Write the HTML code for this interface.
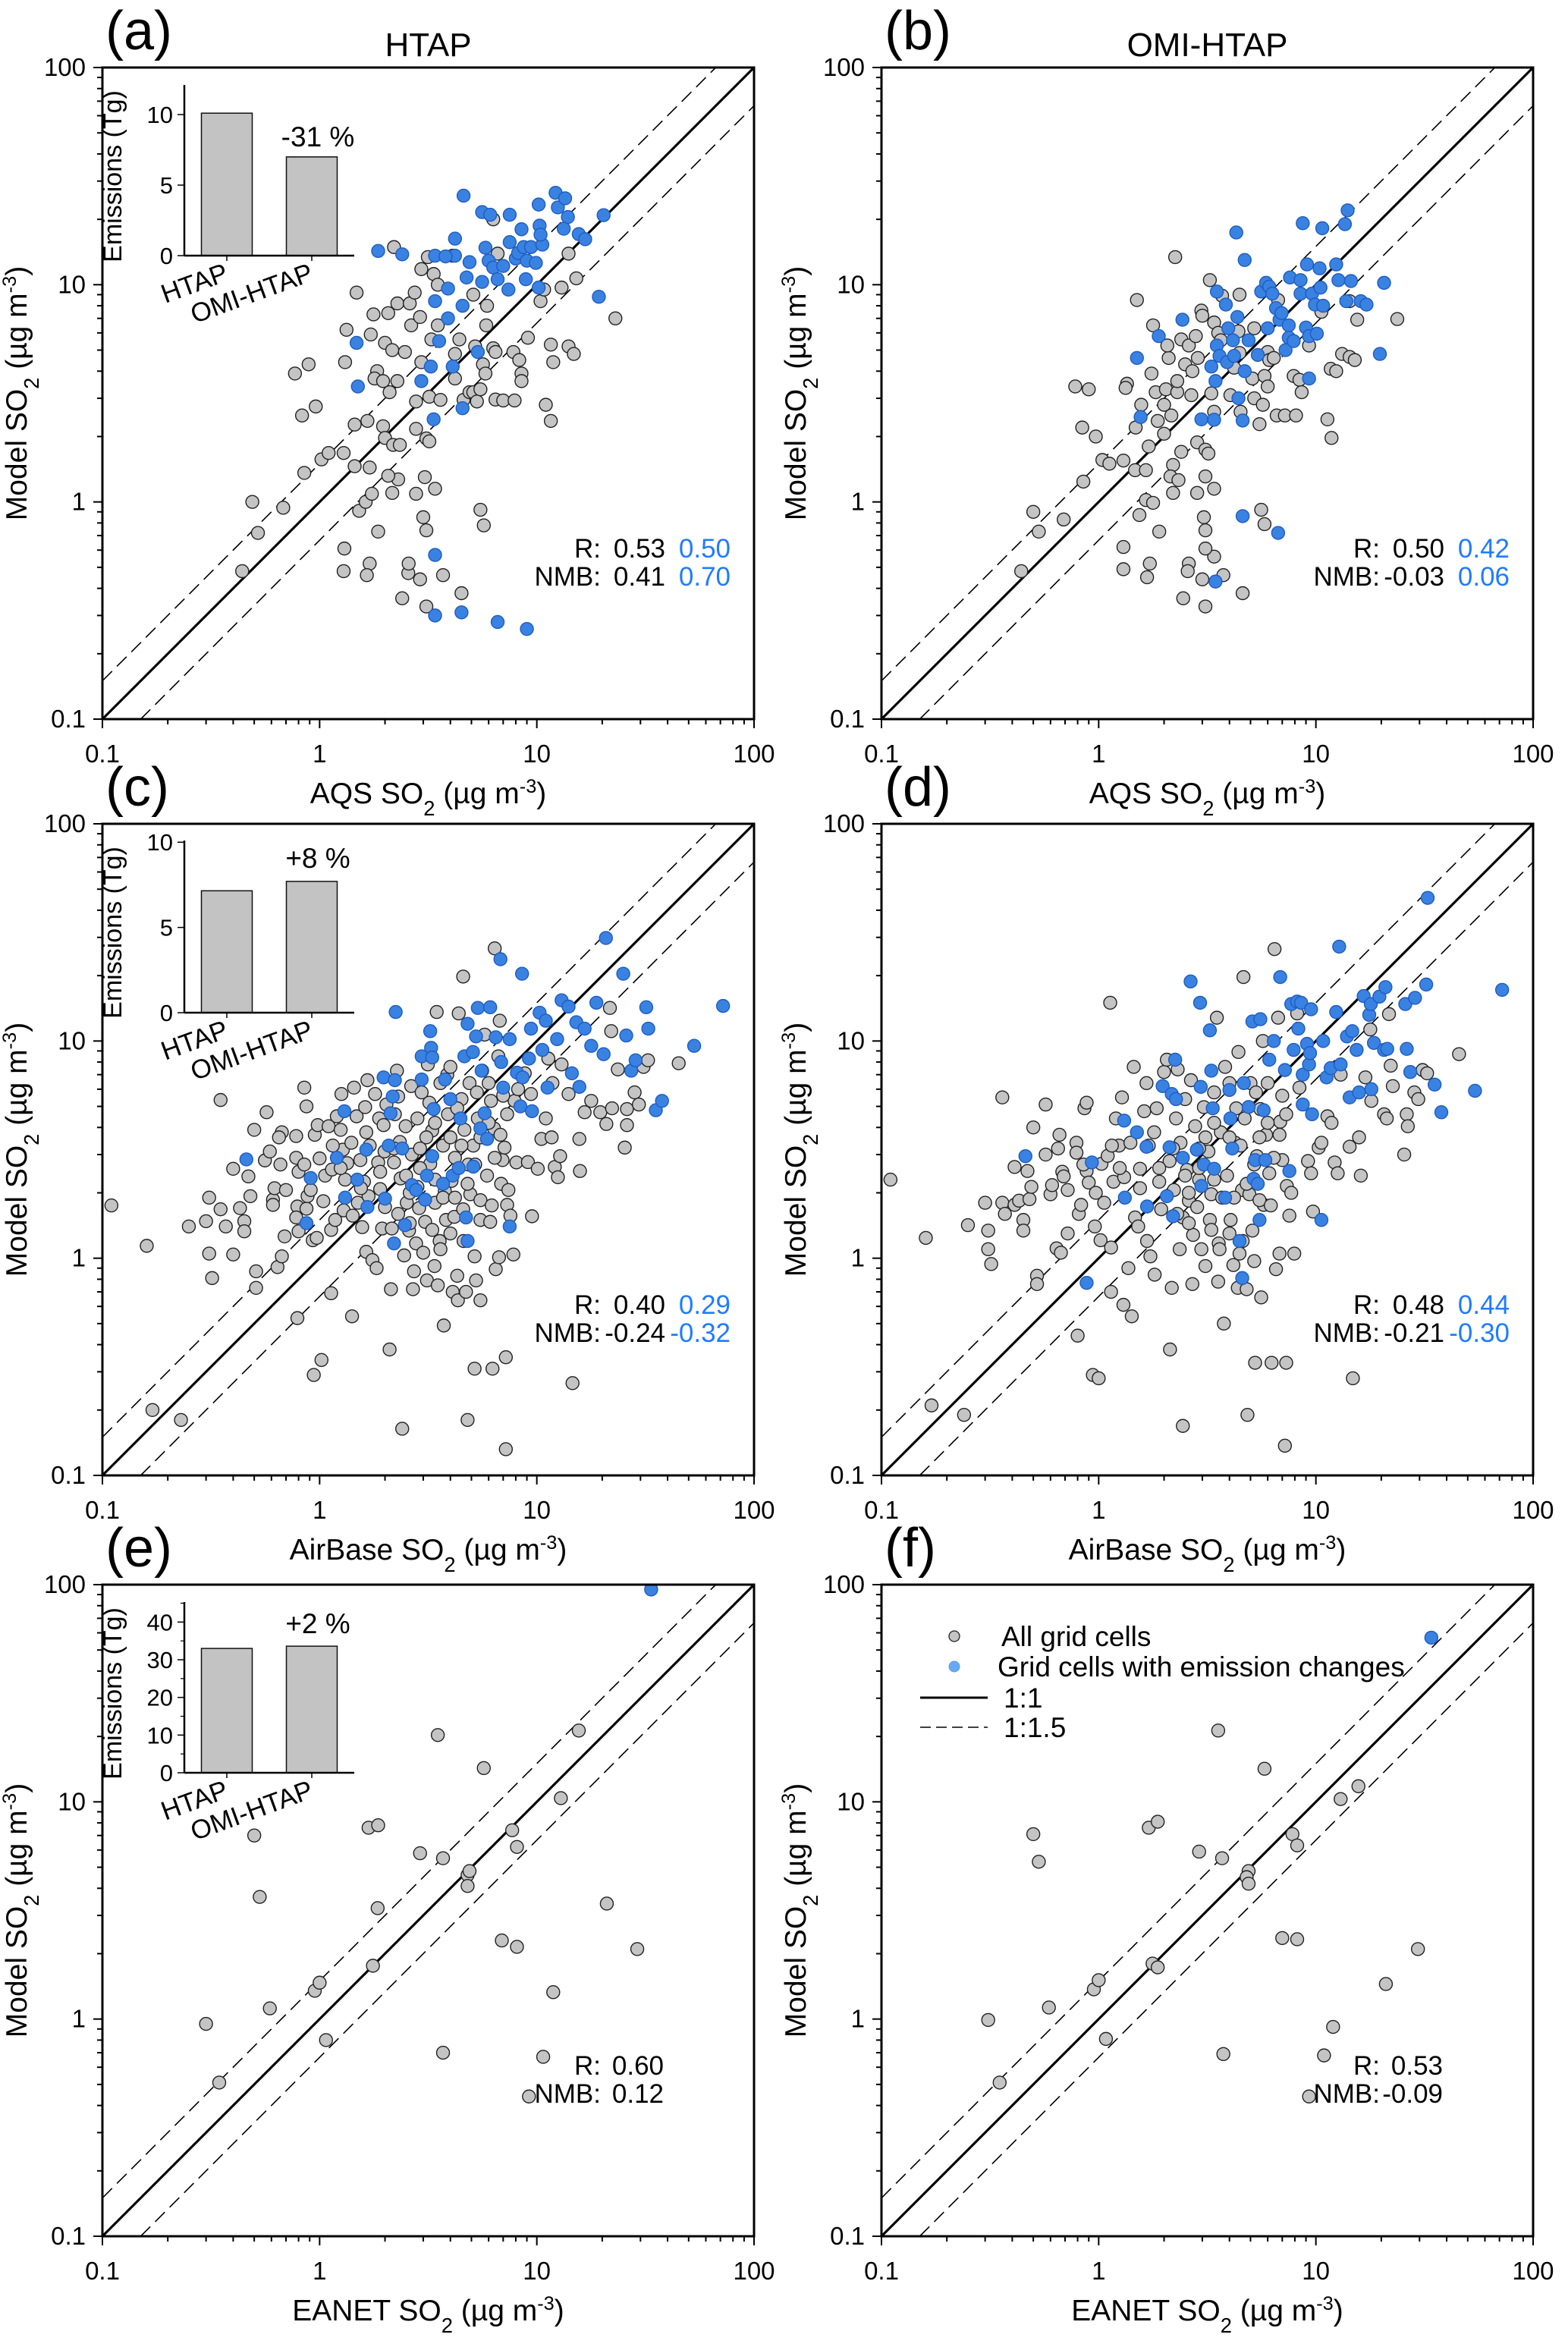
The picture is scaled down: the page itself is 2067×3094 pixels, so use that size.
<!DOCTYPE html>
<html><head><meta charset="utf-8"><style>
html,body{margin:0;padding:0;background:#fff;}
svg{display:block;font-family:"Liberation Sans",Arial,sans-serif;}
</style></head><body>
<svg id="fig" xmlns="http://www.w3.org/2000/svg" width="2067" height="3094" viewBox="0 0 2067 3094" font-family="Liberation Sans, Arial, sans-serif"></svg>
<script>
// ---------------- DATA ----------------
const axisTicks = [0.1, 1, 10, 100];
const axisTickLabels = ["0.1", "1", "10", "100"];
const insetCats = ["HTAP", "OMI-HTAP"];
const insetA = [10.1, 7.0];
const insetC = [7.15, 7.7];
const insetE = [33.0, 33.6];
const insetTicksA = [0, 5, 10];
const insetTicksC = [0, 5, 10];
const insetTicksE = [0, 10, 20, 30, 40];
const statsA = ["0.53", "0.50", "0.41", "0.70"];
const statsB = ["0.50", "0.42", "-0.03", "0.06"];
const statsC = ["0.40", "0.29", "-0.24", "-0.32"];
const statsD = ["0.48", "0.44", "-0.21", "-0.30"];
const statsE = ["0.60", "0.12"];
const statsF = ["0.53", "-0.09"];

const aGray = [[0.44,0.48],[0.49,1.0],[0.52,0.72],[0.68,0.94],[0.77,3.9],[0.83,2.5],[0.89,4.3],[0.96,2.75],[0.85,1.36],[1.02,1.57],[1.1,1.68],[1.29,1.68],[1.33,6.2],[1.31,4.4],[1.48,9.2],[1.45,2.27],[1.45,1.46],[1.52,0.91],[1.63,1.0],[1.74,1.09],[1.7,1.44],[1.66,2.36],[1.72,5.9],[1.77,7.3],[1.86,0.73],[1.84,4.0],[1.79,3.7],[1.96,3.6],[1.96,2.23],[2.0,1.97],[2.0,5.4],[2.1,3.2],[2.07,7.4],[2.16,5.0],[2.2,14.9],[2.28,8.2],[2.18,1.83],[2.34,1.83],[2.16,1.1],[2.3,1.27],[2.07,1.32],[2.28,3.6],[2.47,4.9],[2.64,6.5],[2.6,8.2],[2.74,9.2],[2.78,1.09],[2.78,2.17],[2.78,2.9],[2.94,4.4],[2.9,7.1],[2.94,11.8],[3.0,0.85],[3.1,0.74],[3.05,1.3],[3.1,1.96],[3.2,1.9],[3.2,3.05],[3.15,13.4],[3.35,11.2],[3.4,1.15],[3.27,5.6],[3.5,6.5],[3.5,10],[3.6,2.95],[3.7,0.46],[3.1,0.33],[2.9,0.44],[2.56,0.47],[2.57,0.52],[2.4,0.36],[1.7,0.52],[1.65,0.46],[1.3,0.61],[1.29,0.48],[4.1,13.6],[4.2,4.8],[4.4,5.6],[4.2,3.7],[4.5,0.38],[4.6,2.95],[4.9,3.2],[5.1,3.2],[5.2,5.2],[5.3,2.9],[5.1,9.0],[5.5,0.92],[5.7,0.78],[5.5,3.3],[5.65,4.3],[5.8,3.9],[5.85,6.5],[5.9,8.0],[6.3,20],[6.6,13.9],[6.45,2.96],[7.0,2.93],[6.3,5.1],[6.45,4.9],[7.9,2.93],[7.8,4.9],[8.3,4.5],[8.5,3.9],[8.5,3.6],[9.1,5.7],[10.4,8.4],[10.8,9.5],[11.0,2.8],[11.6,2.36],[11.6,5.3],[11.9,4.4],[13.0,9.7],[14,5.2],[14.8,4.8],[15.2,10.7],[14,13.9],[23,7.0]];
const aBlue = [[1.86,14.3],[2.4,13.8],[1.48,5.4],[1.5,3.4],[2.94,3.6],[3.25,4.2],[3.35,2.4],[3.4,8.4],[3.55,5.5],[3.4,13.6],[3.4,0.30],[3.4,0.57],[3.9,9.6],[3.9,7.0],[4.2,16.3],[4.2,13.6],[3.8,13.5],[4.6,25.7],[4.55,2.7],[4.5,0.31],[4.55,8.0],[4.75,10.8],[4.9,12.7],[4.1,4.2],[5.35,4.9],[5.6,21.6],[6.1,21],[5.8,14.8],[6.0,12.9],[6.3,12],[6.6,10.6],[7.0,12.2],[7.4,9.5],[7.5,21],[7.5,15.7],[8.0,13.2],[8.2,14],[8.5,18],[8.7,14.9],[9.0,12.9],[8.9,10.6],[9.4,14.9],[9.9,12.6],[10.2,23.4],[10.3,18.7],[10.6,15.3],[10.4,17],[10.2,9.7],[12.2,26.5],[12.5,22.7],[13.5,25],[13.9,20.5],[13.3,18.1],[15.6,17.1],[16.7,16.2],[19.3,8.8],[20.3,20.9],[6.6,0.28],[9.0,0.26],[5.6,10.3]];

const bGray = [[0.44,0.48],[0.50,0.90],[0.53,0.73],[0.69,0.83],[0.78,3.4],[0.90,3.3],[0.84,2.2],[0.97,2.0],[0.85,1.24],[1.04,1.56],[1.12,1.5],[1.3,1.55],[1.3,0.62],[1.3,0.49],[1.47,1.4],[1.5,8.5],[1.35,3.5],[1.33,3.35],[1.57,2.8],[1.48,2.2],[1.54,0.87],[1.65,1.02],[1.65,1.4],[1.7,1.8],[1.78,0.99],[1.72,0.52],[1.67,0.45],[1.78,6.5],[1.75,3.9],[1.83,3.2],[1.87,2.36],[1.9,0.73],[2.0,2.06],[2.0,2.8],[2.04,3.3],[2.1,4.6],[2.07,5.25],[2.16,2.5],[2.25,13.4],[2.3,3.2],[2.3,3.6],[2.4,5.6],[2.4,1.7],[2.2,1.48],[2.14,1.31],[2.33,1.26],[2.2,1.1],[2.5,4.3],[2.6,5.25],[2.7,4.0],[2.67,3.1],[2.8,5.8],[2.86,4.6],[2.97,7.6],[3.0,7.2],[2.84,1.88],[2.84,1.1],[3.05,0.85],[3.1,0.74],[3.1,1.31],[3.1,1.74],[3.2,1.67],[2.6,0.52],[2.57,0.48],[3.0,0.44],[3.4,0.56],[3.1,0.61],[3.75,0.46],[2.45,0.36],[3.1,0.33],[4.6,0.38],[3.4,1.15],[3.25,10.5],[3.4,6.7],[3.55,6.0],[3.65,5.55],[3.3,3.16],[3.4,2.6],[3.7,8.9],[4.45,9.0],[4.4,6.1],[4.2,4.15],[4.45,4.85],[4.04,3.1],[4.5,2.6],[5.1,3.7],[5.2,3.0],[5.5,2.28],[5.7,2.8],[5.2,6.3],[5.8,3.8],[6.0,4.9],[6.0,3.4],[5.6,0.92],[5.8,0.79],[6.1,4.5],[6.4,4.6],[6.7,8.5],[6.6,2.5],[7.2,2.5],[7.9,3.8],[8.1,2.5],[8.4,3.65],[8.6,3.2],[9.3,5.25],[10.6,7.5],[11.3,2.4],[11.7,4.1],[11.8,1.97],[12.4,4.0],[13.2,4.8],[14.3,4.65],[15.1,4.5],[15.5,6.9],[23.7,6.95],[14.3,8.4]];
const bBlue = [[1.5,4.6],[1.56,2.46],[1.89,5.8],[2.43,6.9],[3.5,9.3],[3.85,8.1],[4.3,17.4],[4.35,7.1],[4.7,13],[3.95,6.3],[4.15,5.55],[3.5,5.25],[3.6,4.7],[3.3,4.2],[3.45,3.6],[3.9,4.4],[4.2,4.7],[4.7,4.0],[4.4,3.0],[4.6,2.37],[2.97,2.4],[3.4,2.39],[4.6,0.86],[6.7,0.72],[3.45,0.43],[4.9,5.55],[5.4,4.75],[5.6,9.3],[5.9,10.2],[6.1,9.8],[6.3,9.1],[6.55,7.8],[6.0,6.3],[6.8,6.9],[6.95,7.4],[7.5,6.5],[7.25,5.0],[7.5,5.7],[7.9,5.5],[7.6,10.8],[8.5,10.5],[8.5,9.1],[9.1,12.4],[9.0,6.35],[9.3,5.8],[9.6,9.1],[9.9,8.1],[10.5,9.7],[10.1,5.95],[10.4,11.9],[10.8,8.0],[9.3,3.7],[8.7,19.2],[10.7,18.2],[12.4,12.4],[12.7,10.5],[13.6,19],[14.0,22],[13.8,8.4],[14.5,10.4],[16.1,8.4],[17.1,8.1],[20.6,10.2],[19.7,4.8]];

const cGray = [[0.11,1.75],[0.16,1.14],[0.17,0.20],[0.23,0.18],[0.25,1.4],[0.32,0.81],[0.31,1.05],[0.30,1.48],[0.31,1.9],[0.35,1.68],[0.37,1.4],[0.35,5.35],[0.40,1.04],[0.40,2.58],[0.45,1.48],[0.45,1.33],[0.43,1.7],[0.47,2.38],[0.48,1.93],[0.50,3.9],[0.51,0.73],[0.51,0.87],[0.57,4.7],[0.56,2.82],[0.59,3.1],[0.61,1.86],[0.61,1.76],[0.62,2.1],[0.64,0.91],[0.66,2.7],[0.67,1.02],[0.67,3.8],[0.65,3.6],[0.69,1.26],[0.70,2.06],[0.78,2.9],[0.78,3.65],[0.79,0.53],[0.80,2.5],[0.79,1.73],[0.78,1.54],[0.80,1.33],[0.85,6.1],[0.87,5.0],[0.87,1.69],[0.88,1.93],[0.91,2.06],[0.94,0.29],[0.93,1.21],[0.97,1.24],[0.95,3.7],[0.98,4.1],[1.0,2.88],[1.02,0.34],[1.04,1.83],[1.06,2.4],[1.1,4.05],[1.13,1.35],[1.13,0.69],[1.14,2.56],[1.18,1.5],[1.2,4.5],[1.25,3.9],[1.26,5.7],[1.28,3.16],[1.29,1.66],[1.31,2.3],[1.34,2.74],[1.41,0.54],[1.42,1.57],[1.44,6.1],[1.48,4.5],[1.5,1.8],[1.54,2.83],[1.57,1.39],[1.6,2.25],[1.62,4.96],[1.64,3.8],[1.66,6.6],[1.68,1.93],[1.64,1.07],[1.75,0.98],[1.8,5.7],[1.83,0.9],[1.86,2.76],[1.88,4.4],[1.9,2.08],[1.94,1.37],[1.97,4.1],[1.99,3.1],[2.0,1.72],[2.03,5.1],[2.1,0.38],[2.13,0.72],[2.15,1.37],[2.2,2.76],[2.22,4.6],[2.27,7.3],[2.3,5.55],[2.34,3.43],[2.36,2.33],[2.4,0.164],[2.45,1.03],[2.49,4.05],[2.52,1.8],[2.58,1.34],[2.64,6.2],[2.66,3.0],[2.69,0.72],[2.72,0.87],[2.78,1.17],[2.82,4.4],[2.82,2.13],[2.87,1.7],[2.95,5.8],[3.0,1.06],[3.06,1.47],[3.12,0.79],[3.15,7.8],[3.2,5.2],[3.23,2.72],[3.3,3.87],[3.38,0.92],[3.4,1.8],[3.46,13.6],[3.5,0.75],[3.57,1.2],[3.6,6.4],[3.7,3.3],[3.73,0.49],[3.77,2.04],[3.82,1.5],[3.87,7.0],[3.9,4.6],[4.0,7.6],[4.05,2.27],[4.1,0.70],[4.17,1.55],[4.2,2.9],[4.3,0.83],[4.33,0.64],[4.37,13.4],[4.5,5.4],[4.58,19.8],[4.58,1.68],[4.64,3.9],[4.72,0.70],[4.8,0.18],[4.84,2.7],[4.9,6.4],[4.94,1.97],[5.1,3.3],[5.17,1.02],[5.17,0.31],[5.25,0.79],[5.35,4.4],[5.5,1.5],[5.5,0.64],[5.6,7.3],[5.75,10.7],[5.9,2.4],[6.1,1.47],[6.15,5.3],[6.25,0.31],[6.35,3.96],[6.4,26.7],[6.47,0.89],[6.65,8.5],[6.7,1.01],[6.75,12.4],[6.85,2.2],[6.95,2.83],[7.1,3.23],[7.2,0.35],[7.2,0.132],[7.3,1.76],[7.4,2.06],[7.56,1.57],[7.8,1.04],[7.9,5.3],[8.05,2.76],[8.2,6.0],[8.8,7.1],[9.1,2.77],[9.5,1.56],[9.4,5.7],[10.1,2.58],[10.5,3.54],[11.0,4.4],[11.3,8.3],[11.7,3.6],[11.8,6.4],[12.1,2.63],[12.5,2.36],[12.8,2.95],[13,7.8],[14,5.7],[14.6,0.266],[15.7,3.54],[15.8,2.52],[16.6,4.7],[17.8,5.3],[19.6,4.7],[20.9,4.15],[21.7,14.2],[22,11.1],[22.2,4.9],[23.6,7.4],[25.4,3.23],[26,4.1],[26,4.86],[28.2,5.8],[29.5,5.1],[31,7.6],[32.5,8.15],[45,7.9],[1.7,3.3],[1.9,2.5],[2.2,3.2],[2.5,2.4],[2.6,2.0],[2.9,2.6],[3.1,3.6],[3.4,2.3],[3.7,1.9],[4.0,3.6],[4.2,1.9],[4.5,3.3],[4.8,2.2],[5.2,2.7],[5.5,3.6],[6.0,4.2],[6.4,2.9],[6.8,3.7],[7.3,4.6],[2.3,1.6],[2.6,1.45],[3.3,1.35],[3.6,1.1],[4.0,1.3],[4.6,1.2],[5.5,1.85],[6.2,1.75],[1.4,3.4],[1.55,2.1],[1.25,2.6],[1.15,3.3],[0.85,2.7],[2.9,3.2],[3.4,4.2],[4.3,4.9],[5.3,5.8],[6.0,6.4],[7.0,5.6]];
const cBlue = [[0.46,2.85],[0.87,1.45],[0.91,2.34],[1.3,4.75],[1.2,2.9],[1.31,1.9],[1.49,2.3],[1.64,3.16],[1.66,1.72],[1.97,6.8],[2.0,1.88],[2.08,3.3],[2.12,4.65],[2.17,5.55],[2.2,1.17],[2.24,13.6],[2.22,6.6],[2.4,3.2],[2.47,1.42],[2.66,2.17],[2.78,2.06],[2.95,6.65],[2.95,8.5],[3.06,1.86],[3.12,2.4],[3.23,11.1],[3.26,9.3],[3.3,8.4],[3.35,4.86],[3.3,2.95],[3.7,2.2],[3.78,6.65],[4.0,5.4],[4.1,2.4],[4.37,2.6],[4.45,4.4],[4.64,8.5],[4.72,1.54],[4.8,1.2],[4.8,12],[5.08,8.9],[5.1,2.64],[5.25,10.5],[5.35,14.2],[5.5,3.96],[5.57,7.3],[5.75,4.65],[5.9,3.54],[6.1,14.3],[6.47,10.4],[6.8,23.8],[6.85,8.0],[7.0,6.1],[7.5,1.4],[7.5,10.2],[8.1,7.15],[8.4,5.0],[8.55,20.4],[8.6,6.8],[9.2,8.3],[9.4,11.4],[9.5,4.75],[10.3,13.5],[10.6,9.1],[11,12.4],[11.2,6.1],[12.4,10.2],[13,15.4],[14,14.4],[14.5,7.1],[15.2,12.2],[15.7,6.15],[16.6,11.4],[17.8,9.5],[18.8,15],[20.3,8.7],[20.8,29.8],[25,20.4],[25.8,10.6],[27.2,7.3],[28.5,8.15],[31.9,14.3],[32.6,11.4],[35.3,4.8],[37.7,5.3],[53,9.5],[72,14.5]];

const dGray = [[0.11,2.3],[0.16,1.24],[0.17,0.21],[0.24,0.19],[0.25,1.42],[0.31,1.34],[0.31,1.1],[0.32,0.94],[0.30,1.8],[0.36,5.5],[0.36,1.8],[0.37,1.6],[0.41,1.76],[0.41,2.63],[0.43,1.84],[0.45,1.5],[0.45,1.34],[0.47,2.52],[0.48,1.87],[0.49,2.13],[0.50,4.0],[0.52,0.83],[0.52,0.76],[0.57,5.1],[0.57,3.0],[0.6,1.97],[0.61,2.17],[0.64,1.11],[0.65,3.2],[0.66,3.7],[0.67,1.06],[0.68,2.5],[0.69,2.38],[0.72,1.3],[0.72,2.06],[0.79,3.4],[0.79,3.06],[0.8,0.44],[0.81,1.6],[0.83,1.76],[0.86,4.9],[0.88,5.2],[0.88,2.52],[0.9,2.23],[0.94,0.29],[0.96,1.4],[0.97,2.0],[1.0,0.28],[1.02,1.21],[1.03,2.72],[1.06,1.8],[1.1,2.96],[1.13,15],[1.14,0.70],[1.14,1.12],[1.17,2.25],[1.2,4.4],[1.24,3.3],[1.28,5.5],[1.3,0.61],[1.31,2.36],[1.37,0.9],[1.42,0.54],[1.45,7.6],[1.47,1.54],[1.52,1.4],[1.55,2.58],[1.62,4.75],[1.66,6.4],[1.67,1.2],[1.73,1.02],[1.8,3.8],[1.81,0.84],[1.85,4.9],[1.9,2.25],[1.94,1.68],[2.0,7.2],[2.06,8.2],[2.12,2.8],[2.17,0.73],[2.13,0.38],[2.22,2.06],[2.27,4.4],[2.31,7.4],[2.36,1.1],[2.38,3.4],[2.44,1.54],[2.44,0.169],[2.5,5.4],[2.55,2.55],[2.6,1.84],[2.66,6.6],[2.7,0.76],[2.72,1.28],[2.78,4.05],[2.84,1.72],[2.9,2.3],[2.97,1.1],[3.05,4.96],[3.1,0.92],[3.2,3.1],[3.25,1.5],[3.3,1.97],[3.4,5.8],[3.5,12.8],[3.55,0.78],[3.57,1.17],[3.65,3.8],[3.77,0.50],[3.82,7.6],[3.9,2.4],[4.0,6.4],[4.05,1.5],[4.17,0.93],[4.25,3.4],[4.37,0.73],[4.4,8.9],[4.45,1.05],[4.57,2.06],[4.64,19.7],[4.7,4.4],[4.8,0.72],[4.84,0.19],[4.94,1.97],[5.0,6.4],[5.1,1.34],[5.2,0.97],[5.25,0.33],[5.35,2.95],[5.55,4.86],[5.6,0.66],[5.7,10.0],[5.75,1.76],[5.9,3.7],[6.1,2.46],[6.25,0.33],[6.45,26.5],[6.55,0.89],[6.7,12.8],[6.8,1.05],[6.85,4.25],[7.0,2.83],[7.2,0.137],[7.3,0.33],[7.35,2.15],[7.55,1.57],[7.7,2.0],[7.95,1.05],[8.2,13.4],[8.4,6.1],[9.2,2.8],[9.5,2.46],[9.7,1.64],[10.3,3.23],[10.6,3.4],[11.3,4.5],[11.8,4.2],[12.2,2.76],[12.6,2.46],[13,7.0],[14.3,3.26],[14.8,0.28],[15.8,3.6],[16.1,2.4],[16.9,6.8],[18,5.3],[20.6,4.6],[21.2,4.4],[21.7,13.3],[22.1,7.7],[22.6,6.2],[25.5,3.0],[26.2,4.6],[26.5,4.05],[28.4,5.8],[29.6,5.4],[31,7.35],[32.5,7.1],[45.6,8.7],[17.8,11.3],[1.7,3.3],[1.9,2.6],[2.2,3.2],[2.5,2.4],[2.6,2.0],[2.9,2.6],[3.1,3.6],[3.4,2.3],[3.7,1.9],[4.0,3.6],[4.2,1.9],[4.5,3.3],[4.8,2.2],[5.2,2.7],[5.5,3.6],[6.0,4.2],[6.4,2.9],[6.8,3.7],[7.3,4.6],[2.3,1.6],[2.6,1.45],[3.3,1.35],[3.6,1.1],[4.0,1.3],[4.6,1.2],[5.5,1.85],[6.2,1.75],[1.4,3.4],[1.55,2.1],[1.25,2.6],[1.15,3.3],[0.85,2.7],[2.9,3.2],[3.4,4.2],[4.3,4.9],[5.3,5.8],[6.0,6.4],[7.0,5.6]];
const dBlue = [[0.46,2.95],[0.88,0.77],[0.93,2.76],[1.31,4.3],[1.32,1.9],[1.5,3.8],[1.66,3.26],[1.67,1.73],[1.97,6.2],[2.06,1.93],[2.12,3.24],[2.17,5.7],[2.25,8.2],[2.27,5.4],[2.2,1.56],[2.44,2.9],[2.65,18.8],[2.83,3.16],[2.93,15],[2.95,6.15],[2.97,2.15],[3.05,2.7],[3.25,11.2],[3.3,7.3],[3.35,4.9],[3.4,2.58],[3.82,1.9],[4.0,5.95],[4.04,4.4],[4.12,3.2],[4.45,1.2],[4.58,0.81],[4.66,6.4],[4.9,4.97],[5.1,12.3],[5.17,2.32],[5.25,2.83],[5.4,2.2],[5.5,1.5],[5.55,12.6],[5.75,4.8],[5.85,2.83],[6.1,8.2],[6.4,10],[6.85,19.7],[7.2,7.35],[7.55,2.52],[7.7,14.8],[7.9,9.1],[8.2,15.2],[8.3,11.4],[8.55,15],[8.7,7],[8.7,5.1],[9.1,9.7],[9.3,7.8],[9.4,8.8],[9.5,14],[9.6,4.6],[10.6,1.5],[10.8,10.0],[11.2,6.8],[11.7,7.5],[12.4,13.6],[12.8,27.2],[13,7.8],[13.9,10.5],[14.3,5.5],[14.7,11.1],[15.4,9.1],[15.8,5.8],[16.6,16.1],[17.6,13.2],[17.9,14.8],[18,6],[18.5,9.8],[19.6,16],[20.6,9.1],[20.9,17.7],[21.3,9.2],[25.8,14.8],[26.2,9.2],[27.2,7.2],[28.6,15.8],[32.2,18.2],[32.7,45.6],[35.2,6.3],[37.8,4.7],[54,5.9],[72,17.2]];

const eGray = [[0.30,0.95],[0.345,0.51],[0.50,7.0],[0.53,3.65],[0.59,1.12],[0.95,1.35],[1.0,1.47],[1.07,0.80],[1.68,7.6],[1.86,7.8],[1.76,1.76],[1.85,3.24],[2.9,5.8],[3.5,20.3],[3.7,5.5],[3.7,0.70],[4.8,4.6],[4.9,4.8],[4.8,4.1],[5.7,14.3],[6.9,2.3],[7.7,7.4],[8.1,2.15],[8.1,6.2],[9.2,0.44],[10.7,0.67],[11.9,1.33],[12.9,10.4],[15.6,21.3],[21,3.4],[29,2.1]];
const eBlue = [[33.6,95]];
const fGray = [[0.31,0.99],[0.35,0.51],[0.50,7.1],[0.53,5.3],[0.59,1.13],[0.95,1.37],[1.0,1.51],[1.08,0.81],[1.7,7.6],[1.87,8.1],[1.77,1.8],[1.87,1.73],[2.9,5.9],[3.55,21.3],[3.7,5.5],[3.75,0.69],[4.9,4.8],[4.8,4.5],[4.9,4.2],[5.8,14.2],[7.0,2.36],[8.2,2.33],[7.8,7.1],[8.2,6.3],[9.3,0.44],[10.9,0.68],[12,0.92],[13,10.3],[15.7,11.8],[21,1.45],[29.5,2.1]];
const fBlue = [[34,57]];

// ---------------- DRAWING ----------------
const NS = "http://www.w3.org/2000/svg";
const svg = document.getElementById("fig");
const S = 859;
const R = 8.5;
const GRAY_FILL = "#c4c4c4", BLUE_FILL = "#3a82e2", BLUE_STROKE = "#1d5cc0", BLUE_TEXT = "#1f7cff";

function mk(tag, attrs, parent) {
  const e = document.createElementNS(NS, tag);
  for (const k in attrs) e.setAttribute(k, attrs[k]);
  (parent || svg).appendChild(e);
  return e;
}
function txt(str, attrs, parent) {
  const e = mk("text", attrs, parent);
  e.textContent = str;
  return e;
}
function logPos(v) { return (Math.log10(v) + 1) / 3; }

function soLabel(parent, prefix, attrs) {
  const t = mk("text", attrs, parent);
  const a = document.createElementNS(NS, "tspan"); a.textContent = prefix + "SO"; t.appendChild(a);
  const b = document.createElementNS(NS, "tspan"); b.textContent = "2"; b.setAttribute("baseline-shift", "sub"); b.setAttribute("font-size", "0.7em"); t.appendChild(b);
  const c = document.createElementNS(NS, "tspan"); c.textContent = " (\u00b5g m"; t.appendChild(c);
  const d = document.createElementNS(NS, "tspan"); d.textContent = "-3"; d.setAttribute("baseline-shift", "super"); d.setAttribute("font-size", "0.65em"); t.appendChild(d);
  const f = document.createElementNS(NS, "tspan"); f.textContent = ")"; t.appendChild(f);
  return t;
}

function panel(cfg) {
  const L = cfg.left, T = cfg.top;
  const sx = v => L + logPos(v) * S;
  const sy = v => T + S - logPos(v) * S;
  const g = mk("g", {});
  
  

  const lab = txt("(" + cfg.id + ")", {x: L + 4, y: T - 24, "font-size": 72, fill: "#000"}, g);
  
  
  if (cfg.title) {
    const tt = txt(cfg.title, {x: L + S / 2, y: T - 15, "font-size": 44, "text-anchor": "middle"}, g);
    
    
  }

  const cp = mk("clipPath", {id: "clip-" + cfg.id}, g);
  mk("rect", {x: L, y: T, width: S, height: S}, cp);

  const tg = mk("g", {stroke: "#000", "stroke-width": 2}, g);
  
  
  for (let d = 0.1; d < 100; d *= 10) {
    for (let m = 1; m <= 9; m++) {
      const v = d * m;
      const len = m === 1 ? 12 : 7;
      mk("line", {x1: L, x2: L - len, y1: sy(v), y2: sy(v)}, tg);
      mk("line", {y1: T + S, y2: T + S + len, x1: sx(v), x2: sx(v)}, tg);
    }
  }
  mk("line", {x1: L, x2: L - 12, y1: sy(100), y2: sy(100)}, tg);
  mk("line", {y1: T + S, y2: T + S + 12, x1: sx(100), x2: sx(100)}, tg);

  axisTicks.forEach((v, i) => {
    const yl = txt(axisTickLabels[i], {x: L - 22, y: sy(v) + 11, "font-size": 33, "text-anchor": "end"}, g);
    
    
    const xl = txt(axisTickLabels[i], {x: sx(v), y: T + S + 57, "font-size": 33, "text-anchor": "middle"}, g);
    
    
  });

  const xt = soLabel(g, cfg.xTitle + " ", {x: L + S / 2, y: T + S + 111, "font-size": 39, "text-anchor": "middle"});
  
  
  const yx = cfg.left - 100, yc = T + S / 2;
  const yt = soLabel(g, "Model ", {x: yx, y: yc, "font-size": 39, "text-anchor": "middle", transform: "rotate(-90 " + yx + " " + yc + ")"});
  
  

  const lg = mk("g", {"clip-path": "url(#clip-" + cfg.id + ")", fill: "none", stroke: "#000"}, g);
  const l1 = mk("line", {x1: sx(0.1), y1: sy(0.1), x2: sx(100), y2: sy(100), "stroke-width": 3.2}, lg);
  
  
  const l2 = mk("line", {x1: sx(0.1), y1: sy(0.15), x2: sx(100 / 1.5), y2: sy(100), "stroke-width": 1.6, "stroke-dasharray": "18 9"}, lg);
  
  
  const l3 = mk("line", {x1: sx(0.15), y1: sy(0.1), x2: sx(100), y2: sy(100 / 1.5), "stroke-width": 1.6, "stroke-dasharray": "18 9"}, lg);
  
  

  const pg = mk("g", {"clip-path": "url(#clip-" + cfg.id + ")"}, g);
  cfg.gray.forEach(p => {
    const c = mk("circle", {cx: sx(p[0]), cy: sy(p[1]), r: R, fill: GRAY_FILL, stroke: "#222", "stroke-width": 1.4}, pg);
    
    
  });
  cfg.blue.forEach(p => {
    const c = mk("circle", {cx: sx(p[0]), cy: sy(p[1]), r: R, fill: BLUE_FILL, stroke: BLUE_STROKE, "stroke-width": 1.4}, pg);
    
    
  });

  const fr = mk("rect", {x: L, y: T, width: S, height: S, fill: "none", stroke: "#000", "stroke-width": 3}, g);
  
  

  const st = cfg.stats;
  const sg = mk("g", {"font-size": 35}, g);
  
  
  txt("R:", {x: L + 657, y: T + 646, "text-anchor": "end"}, sg);
  txt("NMB:", {x: L + 657, y: T + 683, "text-anchor": "end"}, sg);
  if (st.length === 4) {
    txt(st[0], {x: L + 742, y: T + 646, "text-anchor": "end"}, sg);
    txt(st[1], {x: L + 828, y: T + 646, "text-anchor": "end", fill: BLUE_TEXT}, sg);
    txt(st[2], {x: L + 742, y: T + 683, "text-anchor": "end"}, sg);
    txt(st[3], {x: L + 828, y: T + 683, "text-anchor": "end", fill: BLUE_TEXT}, sg);
  } else {
    txt(st[0], {x: L + 740, y: T + 646, "text-anchor": "end"}, sg);
    txt(st[1], {x: L + 740, y: T + 683, "text-anchor": "end"}, sg);
  }

  if (cfg.inset) inset(cfg, g);
  if (cfg.legend) legend(cfg, g);
}

function inset(cfg, g) {
  const ins = cfg.inset;
  const ax = cfg.left + 108, bottom = cfg.top + 248 + (ins.extra || 0), h = ins.h, w = 224;
  const top = bottom - h;
  const sy = v => bottom - v / ins.max * h;
  const ig = mk("g", {}, g);
  
  
  const bw = 67;
  ins.vals.forEach((v, i) => {
    const cx = ax + w * (0.25 + 0.5 * i);
    const r = mk("rect", {x: cx - bw / 2, y: sy(v), width: bw, height: bottom - sy(v), fill: "#c3c3c3", stroke: "#111", "stroke-width": 1.5}, ig);
    
    
    mk("line", {x1: cx, x2: cx, y1: bottom, y2: bottom + 7, stroke: "#000", "stroke-width": 1.5}, ig);
    const cl = txt(insetCats[i], {x: cx + 4, y: bottom + 32, "font-size": 35, "text-anchor": "end", transform: "rotate(-20 " + (cx + 4) + " " + (bottom + 32) + ")"}, ig);
    
    
  });
  mk("line", {x1: ax, x2: ax, y1: top, y2: bottom, stroke: "#000", "stroke-width": 2.5}, ig);
  mk("line", {x1: ax, x2: ax + w, y1: bottom, y2: bottom, stroke: "#000", "stroke-width": 2.5}, ig);
  ins.ticks.forEach(v => {
    mk("line", {x1: ax, x2: ax - 9, y1: sy(v), y2: sy(v), stroke: "#000", "stroke-width": 1.5}, ig);
    const tl = txt(String(v), {x: ax - 15, y: sy(v) + 11, "font-size": 31, "text-anchor": "end"}, ig);
    
    
  });
  if (ins.minor) ins.minor.forEach(v => mk("line", {x1: ax, x2: ax - 5, y1: sy(v), y2: sy(v), stroke: "#000", "stroke-width": 1.2}, ig));
  const ex = cfg.left + 25, ey = top + h / 2 + 8;
  const et = txt("Emissions (Tg)", {x: ex, y: ey, "font-size": 34, "text-anchor": "middle", transform: "rotate(-90 " + ex + " " + ey + ")"}, ig);
  
  
  const pt = txt(ins.change, {x: ax + w * 0.75 + 8, y: ins.changeY, "font-size": 37, "text-anchor": "middle"}, ig);
  
  
}

function legend(cfg, g) {
  const L = cfg.left, T = cfg.top;
  const lg = mk("g", {"font-size": 37}, g);
  
  
  const e1 = mk("circle", {cx: L + 96, cy: T + 68, r: 7, fill: GRAY_FILL, stroke: "#222", "stroke-width": 1.3}, lg);
  
  
  txt("All grid cells", {x: L + 158, y: T + 81}, lg);
  const e2 = mk("circle", {cx: L + 96, cy: T + 108, r: 7, fill: "#66aaf5", stroke: "#5a9de8", "stroke-width": 1}, lg);
  
  
  txt("Grid cells with emission changes", {x: L + 153, y: T + 121}, lg);
  mk("line", {x1: L + 51, x2: L + 140, y1: T + 149, y2: T + 149, stroke: "#000", "stroke-width": 3}, lg);
  txt("1:1", {x: L + 161, y: T + 162}, lg);
  mk("line", {x1: L + 51, x2: L + 140, y1: T + 188, y2: T + 188, stroke: "#000", "stroke-width": 1.5, "stroke-dasharray": "14 7"}, lg);
  txt("1:1.5", {x: L + 161, y: T + 201}, lg);
}

panel({id: "a", left: 135, top: 89, title: "HTAP", xTitle: "AQS", gray: aGray, blue: aBlue, stats: statsA,
  inset: {vals: insetA, max: 12.1, h: 225, ticks: insetTicksA, change: "-31 %", changeY: 193}});
panel({id: "b", left: 1162, top: 89, title: "OMI-HTAP", xTitle: "AQS", gray: bGray, blue: bBlue, stats: statsB});
panel({id: "c", left: 135, top: 1086, xTitle: "AirBase", gray: cGray, blue: cBlue, stats: statsC,
  inset: {vals: insetC, max: 10.1, h: 227, ticks: insetTicksC, change: "+8 %", changeY: 1144, extra: 1}});
panel({id: "d", left: 1162, top: 1086, xTitle: "AirBase", gray: dGray, blue: dBlue, stats: statsD});
panel({id: "e", left: 135, top: 2089, xTitle: "EANET", gray: eGray, blue: eBlue, stats: statsE,
  inset: {vals: insetE, max: 45.3, h: 225, ticks: insetTicksE, minor: [5, 15, 25, 35, 45], change: "+2 %", changeY: 2153}});
panel({id: "f", left: 1162, top: 2089, xTitle: "EANET", gray: fGray, blue: fBlue, stats: statsF, legend: true});
</script>
</body></html>
